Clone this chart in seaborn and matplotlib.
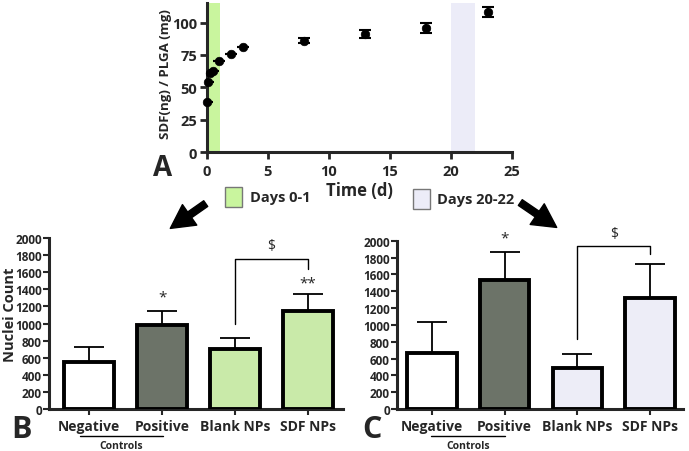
import numpy as np
import pandas as pd
import matplotlib.pyplot as plt
import seaborn as sns
from matplotlib.patches import Rectangle, FancyArrowPatch

# release curve data (panel A)
time_d = [0, 0.1, 0.25, 0.5, 1, 2, 3, 8, 13, 18, 23]
release = [39, 54, 61, 63, 70, 76, 81, 86, 91, 96, 108]
release_err = [0, 0, 0, 0, 0, 0, 0, 2, 3, 4, 4]

# nuclei counts (panels B and C)
groups = ["Negative", "Positive", "Blank NPs", "SDF NPs"]
counts_b = [555, 984, 699, 1145]
err_b = [175, 168, 133, 203]
counts_c = [669, 1535, 492, 1319]
err_c = [366, 335, 165, 405]

GREEN = "#c9f59e"
LAVENDER = "#ececf8"
GREY = "#6c7566"

sns.set_theme(style="ticks")
plt.rcParams["font.family"] = ["Open Sans", "DejaVu Sans"]
plt.rcParams["axes.linewidth"] = 2.2

fig = plt.figure(figsize=(6.89, 4.52), dpi=100)

# ---- panel A ----
axA = fig.add_axes([0.300, 0.661, 0.443, 0.330])
axA.axvspan(0, 1.1, color=GREEN, lw=0, zorder=0)
axA.axvspan(20, 22, color=LAVENDER, lw=0, zorder=0)
dfA = pd.DataFrame({"t": time_d, "r": release})
axA.errorbar(time_d, release, yerr=release_err, fmt="none", ecolor="black",
             elinewidth=1.5, capsize=4, capthick=1.5, zorder=2)
sns.scatterplot(data=dfA, x="t", y="r", color="black", s=38, edgecolor="black",
                zorder=3, clip_on=False, ax=axA)
axA.set_xlim(0, 25)
axA.set_ylim(0, 115)
axA.set_xticks([0, 5, 10, 15, 20, 25])
axA.set_yticks([0, 25, 50, 75, 100])
axA.tick_params(width=2, length=5, labelsize=10.5)
axA.tick_params(axis="y", pad=2)
for lab in axA.get_xticklabels() + axA.get_yticklabels():
    lab.set_fontweight("bold")
axA.set_xlabel("Time (d)", fontsize=12, fontweight="bold", labelpad=2)
axA.set_ylabel("SDF(ng) / PLGA (mg)", fontsize=9.5, fontweight="bold")
axA.yaxis.set_label_coords(-0.115, 0.53)
sns.despine(ax=axA)


def bar_panel(ax, counts, errs, color, show_ylabel):
    df = pd.DataFrame({"group": groups, "count": counts})
    sns.barplot(data=df, x="group", y="count", hue="group", order=groups,
                palette=["white", GREY, color, color], edgecolor="black",
                linewidth=2.8, width=0.68, errorbar=None, legend=False,
                ax=ax, zorder=3)
    ax.errorbar(np.arange(len(groups)), counts,
                yerr=[np.zeros(len(errs)), errs], fmt="none", ecolor="black",
                elinewidth=1.3, capsize=11, capthick=1.3, zorder=2)
    ax.set_ylim(0, 2000)
    ax.set_yticks(np.arange(0, 2001, 200))
    ax.tick_params(axis="y", width=1.5, length=4, labelsize=8.5, pad=1)
    ax.tick_params(axis="x", width=1.5, length=4, labelsize=10, pad=3)
    for lab in ax.get_xticklabels() + ax.get_yticklabels():
        lab.set_fontweight("bold")
    ax.set_xlabel("")
    if show_ylabel:
        ax.set_ylabel("Nuclei Count", fontsize=10.5, fontweight="bold")
        ax.yaxis.set_label_coords(-0.107, 0.555)
    else:
        ax.set_ylabel("")
    sns.despine(ax=ax)


# ---- panel B ----
axB = fig.add_axes([0.071, 0.093, 0.427, 0.378])
bar_panel(axB, counts_b, err_b, GREEN, True)
axB.set_xlim(-0.55, 3.48)
axB.plot([2, 2, 3, 3], [1000, 1760, 1760, 1640], color="black", lw=1)
axB.text(2.5, 1830, "$", ha="center", va="bottom", fontsize=10)
axB.text(1, 1220, "*", ha="center", va="bottom", fontsize=11)
axB.text(3, 1390, "**", ha="center", va="bottom", fontsize=11)

# ---- panel C ----
axC = fig.add_axes([0.576, 0.093, 0.415, 0.372])
bar_panel(axC, counts_c, err_c, LAVENDER, False)
axC.set_xlim(-0.48, 3.45)
axC.plot([2, 2, 3, 3], [830, 1935, 1935, 1845], color="black", lw=1, clip_on=False)
axC.text(2.5, 2000, "$", ha="center", va="bottom", fontsize=10, clip_on=False)
axC.text(1, 1950, "*", ha="center", va="bottom", fontsize=11, clip_on=False)

# controls underline
for x0, x1, xc in [(80, 163, 121), (431, 505, 468)]:
    fig.add_artist(plt.Line2D([x0 / 689, x1 / 689], [1 - 437 / 452] * 2,
                              color="black", lw=1))
    fig.text(xc / 689, 1 - 447 / 452, "Controls", ha="center", va="center",
             fontsize=7.5, fontweight="bold")

# panel letters
fig.text(163 / 689, 1 - 168 / 452, "A", ha="center", va="center",
         fontsize=20, fontweight="bold")
fig.text(22 / 689, 1 - 430 / 452, "B", ha="center", va="center",
         fontsize=22, fontweight="bold")
fig.text(372 / 689, 1 - 430 / 452, "C", ha="center", va="center",
         fontsize=22, fontweight="bold")

# legend boxes
fig.add_artist(Rectangle((225 / 689, 1 - 208 / 452), 17 / 689, 20 / 452,
                         facecolor=GREEN, edgecolor="#777777", lw=1,
                         transform=fig.transFigure))
fig.text(250 / 689, 1 - 198 / 452, "Days 0-1", ha="left", va="center",
         fontsize=10.5, fontweight="bold")
fig.add_artist(Rectangle((413 / 689, 1 - 210 / 452), 17 / 689, 20 / 452,
                         facecolor=LAVENDER, edgecolor="#777777", lw=1,
                         transform=fig.transFigure))
fig.text(437 / 689, 1 - 200 / 452, "Days 20-22", ha="left", va="center",
         fontsize=10.5, fontweight="bold")

# arrows
style = "simple,head_width=18,head_length=17,tail_width=5"
for (x0, y0), (x1, y1) in [((208, 203), (168, 231)), ((518, 202), (559, 230))]:
    fig.add_artist(FancyArrowPatch((x0 / 689, 1 - y0 / 452), (x1 / 689, 1 - y1 / 452),
                                   arrowstyle=style, color="black",
                                   transform=fig.transFigure))

fig.savefig("out.png", dpi=100)
